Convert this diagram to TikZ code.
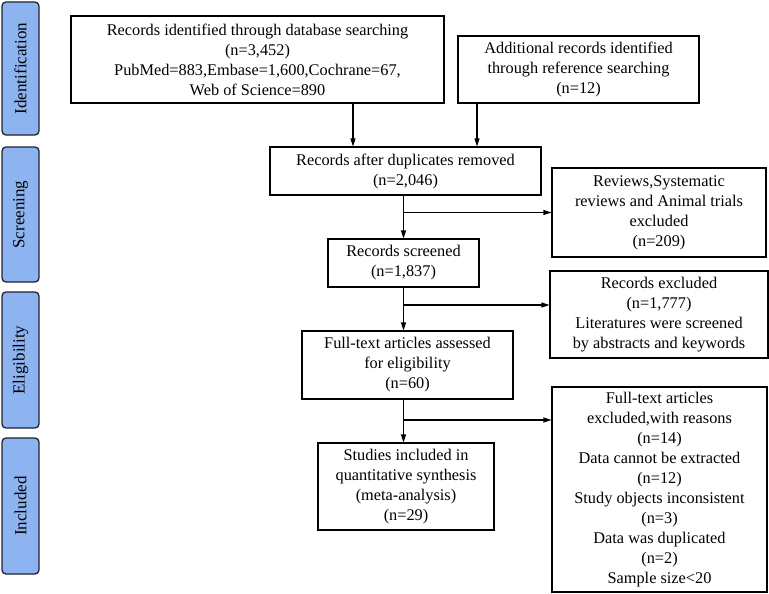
\documentclass[tikz,border=0pt]{standalone}
\usepackage{fontspec}
\setmainfont{Liberation Serif}
\usetikzlibrary{arrows.meta,calc}
\definecolor{sidefill}{RGB}{141,180,240}
\definecolor{sidedraw}{RGB}{30,35,45}
\begin{document}
\begin{tikzpicture}[x=1pt,y=1pt,
  box/.style={draw=black, line width=1.1pt, fill=white, align=center, inner sep=2pt,
    font=\fontsize{16.3}{20}\selectfont},
  side/.style={draw=sidedraw, line width=1.3pt, fill=sidefill, rounded corners=4pt,
    minimum width=37pt, inner sep=0pt},
  sidetext/.style={rotate=90, font=\fontsize{17}{20}\selectfont},
  arr/.style={line width=1.1pt, -{Triangle[length=8pt,width=5pt]}},
  ln/.style={line width=1.1pt}]
\useasboundingbox (0,0) rectangle (769,-594);
% side labels
\node[side, minimum height=133pt] (s1) at (20.5,-68.5) {};
\node[sidetext] (t1) at (s1.center) {Identification};
\node[side, minimum height=135pt] (s2) at (20.5,-214.5) {};
\node[sidetext] (t2) at (s2.center) {Screening};
\node[side, minimum height=136pt] (s3) at (20.5,-360) {};
\node[sidetext] (t3) at (s3.center) {Eligibility};
\node[side, minimum height=136pt] (s4) at (20.5,-506) {};
\node[sidetext] (t4) at (s4.center) {Included};
% boxes
\node[box, minimum width=373pt, minimum height=87pt] (b1) at (257.5,-59.5)
  {Records identified through database searching\\(n=3,452)\\PubMed=883,Embase=1,600,Cochrane=67,\\Web of Science=890};
\node[box, minimum width=241pt, minimum height=67pt] (b2) at (578.5,-69.5)
  {Additional records identified\\through reference searching\\(n=12)};
\node[box, minimum width=271pt, minimum height=48pt] (b3) at (405.5,-171)
  {Records after duplicates removed\\(n=2,046)};
\node[box, minimum width=214pt, minimum height=89pt] (b4) at (659,-212.5)
  {Reviews,Systematic\\reviews and Animal trials\\excluded\\(n=209)};
\node[box, minimum width=151pt, minimum height=48pt] (b5) at (403.5,-263)
  {Records screened\\(n=1,837)};
\node[box, minimum width=218pt, minimum height=87pt] (b6) at (659,-314.5)
  {Records excluded\\(n=1,777)\\Literatures were screened\\by abstracts and keywords};
\node[box, minimum width=211pt, minimum height=68pt] (b7) at (407.5,-365)
  {Full-text articles assessed\\for eligibility\\(n=60)};
\node[box, minimum width=215pt, minimum height=205pt] (b8) at (659.5,-489.5)
  {Full-text articles\\excluded,with reasons\\(n=14)\\Data cannot be extracted\\(n=12)\\Study objects inconsistent\\(n=3)\\Data was duplicated\\(n=2)\\Sample size<20};
\node[box, minimum width=176pt, minimum height=87pt] (b9) at (406,-486.5)
  {Studies included in\\quantitative synthesis\\(meta-analysis)\\(n=29)};
% connectors
\draw[arr] ([xshift=95.5pt]b1.south) -- ([xshift=95.5pt]b1.south |- b3.north);
\draw[arr] ([xshift=-101.5pt]b2.south) -- ([xshift=-101.5pt]b2.south |- b3.north);
\draw[arr] (b5.north |- b3.south) -- (b5.north);
\draw[arr] (b4.west -| b5.north) -- (b4.west);
\coordinate (j2) at (403.5,-305);
\coordinate (j3) at (403.5,-420);
\draw[arr] (b5.south) -- (b5.south |- b7.north);
\draw[arr] (j2) -- (j2 -| b6.west);
\draw[arr] (b5.south |- b7.south) -- (b5.south |- b9.north);
\draw[arr] (j3) -- (j3 -| b8.west);
\end{tikzpicture}
\end{document}
